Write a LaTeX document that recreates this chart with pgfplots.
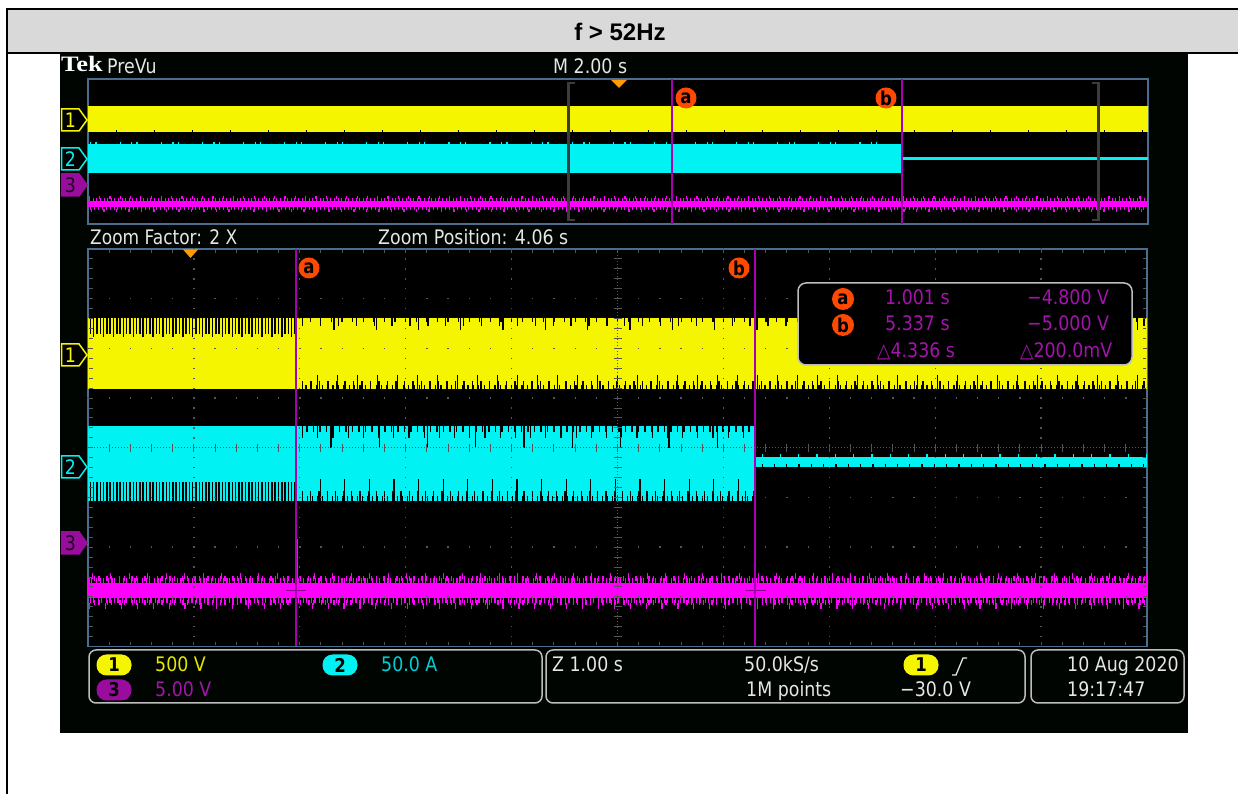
\documentclass[border=0pt]{standalone}
\usepackage{pgfplots}
\pgfplotsset{compat=1.18}
\usepackage{fontspec}
\setmainfont{Liberation Sans}
\newfontfamily\tekfont[FakeStretch=0.87]{DejaVu Sans}
\newfontfamily\teknarrow[FakeStretch=0.85]{DejaVu Sans}
\newfontfamily\logofont{Liberation Serif}
\newcommand{\tf}{\tekfont\fontsize{20}{24}\selectfont}
\newcommand{\tfn}{\teknarrow\fontsize{20}{24}\selectfont}
\newcommand{\tfb}{\tekfont\bfseries\fontsize{19}{22}\selectfont}
\definecolor{tyel}{HTML}{F5F500}
\definecolor{tyeltxt}{HTML}{E6E600}
\definecolor{tcyan}{HTML}{00F2F2}
\definecolor{tcyantxt}{HTML}{00D0D6}
\definecolor{tmag}{HTML}{FF00FF}
\definecolor{tpur}{HTML}{A414AC}
\definecolor{tpurfill}{HTML}{9A0C9E}
\definecolor{tcur}{HTML}{A800B0}
\definecolor{torange}{HTML}{FF4800}
\definecolor{ttrig}{HTML}{FF9A00}
\definecolor{tframe}{HTML}{4B6E8E}
\definecolor{tbrk}{HTML}{3C3C3C}
\definecolor{tscreen}{HTML}{010501}
\definecolor{tgrid}{HTML}{555555}
\definecolor{tbox}{HTML}{BDBDBD}
\definecolor{ttext}{HTML}{E6E6E6}
\definecolor{hdr}{HTML}{D9D9D9}
\newcommand{\clab}[4][21pt]{\node[circle, fill=torange, inner sep=0pt, minimum size=#1, text=black, font=\tfb] at (#2,#3) {#4};}
\newcommand{\chout}[4]{%
  \draw[#2, line width=1.5pt, fill=black] (61.5,#1-11) -- (79,#1-11) -- (87,#1) -- (79,#1+11) -- (61.5,#1+11) -- cycle;
  \node[#3, font=\tf, inner sep=0pt] at (70.5,#1) {#4};}
\newcommand{\chfill}[3]{%
  \draw[#2, line width=1.5pt, fill=#2] (61.5,#1-11) -- (79,#1-11) -- (87,#1) -- (79,#1+11) -- (61.5,#1+11) -- cycle;
  \node[text=black!80!tpurfill, font=\tf, inner sep=0pt] at (70.5,#1) {#3};}
\newcommand{\txt}[4][ttext]{\node[anchor=base west, inner sep=0pt, text=#1, font=\tf] at (#2,#3) {#4};}
\newcommand{\pill}[4]{\node[fill=#3, rounded corners=10pt, minimum width=35pt, minimum height=21pt, inner sep=0pt, font=\tfb, text=black] at (#1,#2) {#4};}

\begin{document}
\begin{tikzpicture}[x=1pt,y=1pt]
\useasboundingbox (0,0) rectangle (1238,794);
\fill[white] (0,0) rectangle (1238,794);
\begin{scope}[yshift=794pt, y=-1pt]
  \fill[hdr] (7,9) rectangle (1238,53);
  \draw[black, line width=1.5pt] (7,9) -- (1238,9);
  \draw[black, line width=2pt] (7,53.5) -- (1238,53.5);
  \draw[black, line width=1.5pt] (7,8.25) -- (7,794);
  \node[anchor=base, font=\bfseries\fontsize{24}{28}\selectfont, inner sep=0pt] at (620,41) {f > 52Hz};
  \fill[tscreen] (60,54.5) rectangle (1188,733);
\end{scope}

% ---------------- overview (PreVu) ----------------
\begin{axis}[at={(88pt,570pt)}, anchor=south west, width=1060pt, height=145pt, scale only axis,
  xmin=-10.02, xmax=9.98, ymin=-4, ymax=4, ticks=none,
  axis line style={tframe, line width=1.3pt}, axis background/.style={fill=black}]
  % ch1
  \addplot[draw=none, fill=tyel] coordinates {(-10.2,1.08) (10.2,1.08) (10.2,2.53) (-10.2,2.53)};
  \addplot[black, line width=2pt, dash pattern=on 1pt off 37pt] coordinates {(-10.2,1.12) (10.2,1.12)};
  % ch2
  \addplot[draw=none, fill=tcyan] coordinates {(-10.2,-1.17) (5.337,-1.17) (5.337,0.41) (-10.2,0.41)};
  \addplot[tcyan, line width=2.5pt, dash pattern=on 1.2pt off 10.5pt on 1.2pt off 4pt on 1.2pt off 23pt] coordinates {(-10.2,0.47) (5.30,0.47)};
  \addplot[draw=none, fill=tcyan] coordinates {(5.337,-0.47) (10.2,-0.47) (10.2,-0.29) (5.337,-0.29)};
  % ch3
  \addplot[draw=none, fill=tmag] coordinates {(-10.2,-2.72) (10.2,-2.72) (10.2,-3.06) (-10.2,-3.06)};
  \addplot[tmag, line width=3pt, dash pattern=on 1pt off 2.6pt] coordinates {(-10.2,-2.64) (10.2,-2.64)};
  \addplot[tmag, line width=3pt, dash pattern=on 1.2pt off 9.1pt] coordinates {(-10.2,-2.54) (10.2,-2.54)};
  \addplot[tmag, line width=3pt, dash pattern=on 1pt off 2.9pt] coordinates {(-10.2,-3.14) (10.2,-3.14)};
  \addplot[tmag, line width=3pt, dash pattern=on 1.2pt off 11.3pt] coordinates {(-10.2,-3.24) (10.2,-3.24)};
  % cursors
  \addplot[tcur, line width=1.6pt] coordinates {(1.001,-4) (1.001,4)};
  \addplot[tcur, line width=1.6pt] coordinates {(5.337,-4) (5.337,4)};
\end{axis}

% ---------------- zoom window ----------------
\begin{axis}[at={(88pt,147.5pt)}, anchor=south west, width=1059pt, height=397.5pt, scale only axis,
  xmin=-0.96, xmax=9.04, ymin=-4, ymax=4, ticks=none,
  axis line style={tframe, line width=1.3pt}, axis background/.style={fill=black}]
  % ch1 band
  \addplot[draw=none, fill=tyel] coordinates {(-1.1,1.18) (9.2,1.18) (9.2,2.61) (-1.1,2.61)};
  % dense comb before cursor a
  \addplot[black, line width=16pt, dash pattern=on 1.5pt off 1.8pt] coordinates {(-1.1,2.45) (0.99,2.45)};
  \addplot[black, line width=4pt, dash pattern=on 1.5pt off 8.4pt] coordinates {(-1.1,2.27) (0.99,2.27)};
  % sparse spikes after cursor a
  \addplot[black, line width=8pt, dash pattern=on 1.3pt off 7.2pt] coordinates {(1.06,1.26) (9.2,1.26)};
  \addplot[black, line width=14pt, dash pattern=on 1.3pt off 18.7pt, dash phase=5pt] coordinates {(1.06,1.32) (9.2,1.32)};
  \addplot[black, line width=4pt, dash pattern=on 1.3pt off 4.1pt, dash phase=2pt] coordinates {(1.06,1.22) (9.2,1.22)};
  \addplot[black, line width=8pt, dash pattern=on 1.3pt off 16.6pt] coordinates {(1.06,2.53) (9.2,2.53)};
  \addplot[black, line width=4pt, dash pattern=on 1.3pt off 9.3pt, dash phase=3pt] coordinates {(1.06,2.57) (9.2,2.57)};
  \addplot[black, line width=12pt, dash pattern=on 1.3pt off 41pt, dash phase=11pt] coordinates {(1.06,2.49) (9.2,2.49)};
  % ch2 band
  \addplot[draw=none, fill=tcyan] coordinates {(-1.1,-1.07) (5.337,-1.07) (5.337,0.44) (-1.1,0.44)};
  \addplot[black, line width=19pt, dash pattern=on 1.5pt off 1.8pt] coordinates {(-1.1,-0.88) (0.99,-0.88)};
  \addplot[black, line width=10pt, dash pattern=on 1.3pt off 6.9pt] coordinates {(1.06,-0.97) (5.32,-0.97)};
  \addplot[black, line width=22pt, dash pattern=on 1.3pt off 23.3pt, dash phase=7pt] coordinates {(1.06,-0.85) (5.32,-0.85)};
  \addplot[black, line width=5pt, dash pattern=on 1.3pt off 3.7pt] coordinates {(1.06,-1.02) (5.32,-1.02)};
  \addplot[black, line width=12pt, dash pattern=on 1.3pt off 13.9pt] coordinates {(1.06,0.32) (5.32,0.32)};
  \addplot[black, line width=6pt, dash pattern=on 1.3pt off 5.2pt, dash phase=2pt] coordinates {(1.06,0.38) (5.32,0.38)};
  \addplot[black, line width=22pt, dash pattern=on 1.3pt off 47pt, dash phase=20pt] coordinates {(1.06,0.22) (5.32,0.22)};
  \addplot[draw=none, fill=tcyan] coordinates {(5.337,-0.38) (9.2,-0.38) (9.2,-0.19) (5.337,-0.19)};
  \addplot[black, line width=3pt, dash pattern=on 1.3pt off 11pt] coordinates {(5.40,-0.35) (9.2,-0.35)};
  \addplot[tcyan, line width=2.5pt, dash pattern=on 1.3pt off 17pt] coordinates {(5.40,-0.16) (9.2,-0.16)};
  % ch3
  \addplot[draw=none, fill=tmag] coordinates {(-1.1,-2.73) (9.2,-2.73) (9.2,-3.02) (-1.1,-3.02)};
  \addplot[tmag, line width=5pt, dash pattern=on 1pt off 2.4pt on 1.5pt off 1.6pt on 1pt off 4pt] coordinates {(-1.1,-2.68) (9.2,-2.68)};
  \addplot[tmag, line width=5pt, dash pattern=on 1.2pt off 6.7pt on 1.6pt off 3.1pt] coordinates {(-1.1,-2.63) (9.2,-2.63)};
  \addplot[tmag, line width=6pt, dash pattern=on 1.2pt off 17.3pt] coordinates {(-1.1,-2.58) (9.2,-2.58)};
  \addplot[tmag, line width=5pt, dash pattern=on 1pt off 2.1pt on 1.5pt off 3.6pt] coordinates {(-1.1,-3.07) (9.2,-3.07)};
  \addplot[tmag, line width=5pt, dash pattern=on 1.2pt off 7.1pt on 1.4pt off 2.9pt] coordinates {(-1.1,-3.12) (9.2,-3.12)};
  \addplot[tmag, line width=6pt, dash pattern=on 1.2pt off 14.7pt] coordinates {(-1.1,-3.18) (9.2,-3.18)};
  \addplot[tmag, line width=1.3pt] coordinates {(1.02,-2.75) (1.02,-1.83)};
  \addplot[tcur!80!black, line width=1pt] coordinates {(0.91,-2.87) (1.10,-2.87)};
  \addplot[tcur!80!black, line width=1pt] coordinates {(5.24,-2.87) (5.44,-2.87)};
  % cursors
  \addplot[tcur, line width=1.8pt] coordinates {(1.001,-4) (1.001,4)};
  \addplot[tcur, line width=1.6pt] coordinates {(5.337,-4) (5.337,4)};
\end{axis}

\begin{scope}[yshift=794pt, y=-1pt]
  % graticule of the zoom window
  \foreach \k in {1,2,3,4,6,7,8,9} {\draw[tgrid, line width=1.3pt, dash pattern=on 1.3pt off 8.64pt] ({88+\k*105.9},248.4) -- ({88+\k*105.9},646);}
  \foreach \j in {1,2,3,5,6,7} {\draw[tgrid, line width=1.3pt, dash pattern=on 1.3pt off 19.88pt] (87.4,{249+\j*49.69}) -- (1147,{249+\j*49.69});}
  \draw[tgrid, line width=1pt, dash pattern=on 1pt off 2pt] (617.5,249) -- (617.5,646);
  \draw[tgrid, line width=1pt, dash pattern=on 1pt off 2pt] (88,447.75) -- (1147,447.75);
  \foreach \m in {1,...,39} {\draw[tgrid, line width=1pt] (613.5,{249+\m*9.94}) -- (621.5,{249+\m*9.94});
     \draw[tgrid, line width=1pt] (89,{249+\m*9.94}) -- (92.5,{249+\m*9.94});
     \draw[tgrid, line width=1pt] (1146,{249+\m*9.94}) -- (1142.5,{249+\m*9.94});}
  \foreach \m in {1,...,49} {\draw[tgrid, line width=1pt] ({88+\m*21.18},443.75) -- ({88+\m*21.18},451.75);
     \draw[tgrid, line width=1pt] ({88+\m*21.18},250) -- ({88+\m*21.18},253.5);
     \draw[tgrid, line width=1pt] ({88+\m*21.18},645.5) -- ({88+\m*21.18},642);}
  % overview brackets and trigger marks
  \draw[tbrk, line width=2.2pt] (575,83) -- (568.5,83) -- (568.5,220) -- (575,220);
  \draw[tbrk, line width=2.2pt] (1092,83) -- (1098.5,83) -- (1098.5,220) -- (1092,220);
  \fill[ttrig] (611,80) -- (627,80) -- (619,88) -- cycle;
  \fill[ttrig] (183,249.5) -- (198,249.5) -- (190.5,258) -- cycle;
  % cursor labels
  \clab{686}{98}{a}
  \clab{886}{98}{b}
  \clab{309}{268}{a}
  \clab{739}{268}{b}
  % channel markers
  \chout{120}{tyel}{tyel}{1}
  \chout{159}{tcyan}{tcyan}{2}
  \chfill{185}{tpurfill}{3}
  \chout{355}{tyel}{tyel}{1}
  \chout{467}{tcyan}{tcyan}{2}
  \chfill{543}{tpurfill}{3}
  % top texts
  \node[anchor=base west, inner sep=0pt, white, font=\logofont\bfseries\fontsize{22}{22}\selectfont, xscale=1.2] at (61,72) {Tek};
  \txt{107}{74}{PreVu}
  \txt{553}{74}{M 2.00 s}
  \node[anchor=base west, inner sep=0pt, text=ttext, font=\tfn] at (90,245) {Zoom Factor: 2 X};
  \txt{378}{245}{Zoom Position: 4.06 s}
  % cursor readout
  \draw[tbox, line width=1.5pt, fill=black, rounded corners=8pt] (798,283) rectangle (1132,365);
  \clab[22pt]{843}{299}{a}
  \clab[22pt]{843}{325}{b}
  \txt[tpur]{885}{305}{1.001 s}
  \txt[tpur]{1027}{305}{−4.800 V}
  \txt[tpur]{885}{331}{5.337 s}
  \txt[tpur]{1027}{331}{−5.000 V}
  \txt[tpur]{877}{358}{△4.336 s}
  \txt[tpur]{1020}{358}{△200.0mV}
  % status boxes
  \draw[tbox, line width=1.5pt, rounded corners=7pt] (89,650) rectangle (542,703);
  \draw[tbox, line width=1.5pt, rounded corners=7pt] (546,650) rectangle (1025,703);
  \draw[tbox, line width=1.5pt, rounded corners=7pt] (1031,650) rectangle (1184,703);
  \pill{114}{665}{tyel}{1}
  \pill{340}{665}{tcyan}{2}
  \pill{114}{690}{tpurfill}{3}
  \pill{921}{665}{tyel}{1}
  \txt[tyeltxt]{155}{672}{500 V}
  \txt[tcyantxt]{381}{672}{50.0 A}
  \txt[tpur]{155}{697}{5.00 V}
  \txt{552}{672}{Z 1.00 s}
  \txt{744}{672}{50.0kS/s}
  \txt{746}{697}{1M points}
  \txt{900}{697}{−30.0 V}
  \draw[ttext, line width=1.3pt] (952,675) -- (956,675) -- (963,658) -- (967,658);
  \txt{1067}{672}{10 Aug 2020}
  \txt{1067}{697}{19:17:47}
\end{scope}
\end{tikzpicture}
\end{document}
